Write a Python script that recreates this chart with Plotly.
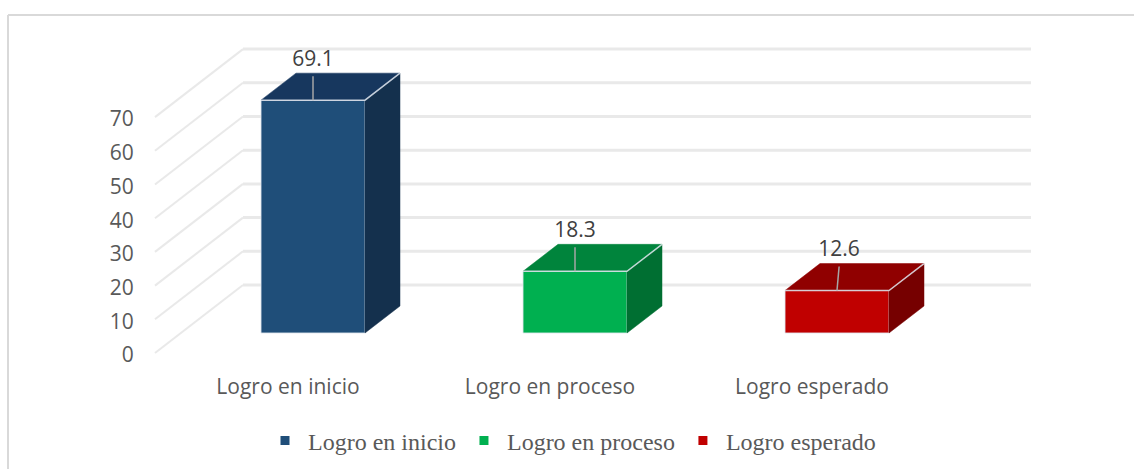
import plotly.graph_objects as go

categories = ["Logro en inicio", "Logro en proceso", "Logro esperado"]
values = [69.1, 18.3, 12.6]
y_ticks = [0, 10, 20, 30, 40, 50, 60, 70]

front_colors = ["#1F4E79", "#00B050", "#C00000"]
top_colors = ["#17375E", "#00843C", "#900000"]
side_colors = ["#14304D", "#006F32", "#760000"]
label_lean = [0.0, 0.0, 0.008]

# Oblique projection, in axis units
WALL_DX = 88 / 262
WALL_DY = 68 / 3.37
BAR_WIDTH = 104 / 262
FRONT_X = 25 / 262   # bar front centre, right of its category tick
FRONT_Y = 20 / 3.37  # bar front base, above the zero line
DEPTH_X = 35 / 262   # bar depth in x
DEPTH_Y = 27 / 3.37  # bar depth in y
LEADER = 24 / 3.37
LABEL_GAP = 29 / 3.37

fw, fh = 1134, 469
ml, mr, mt, mb = 150, 98, 40, 110
plot_w = fw - ml - mr
plot_h = fh - mt - mb
x_range = [(150 - 288) / 262, (1036 - 288) / 262]
y_range = [-6 / 3.37, (353 - 40) / 3.37]
grid_x0 = (155 - 288) / 262
grid_x1 = (1031 - 288) / 262

GRID = "#E9E9E9"
TXT = "#595959"
EDGE = "rgba(225,230,238,0.85)"
AXIS_FONT = "Open Sans"

fig = go.Figure()

for i, (cat, val) in enumerate(zip(categories, values)):
    fx = i + FRONT_X
    fy = FRONT_Y
    dx = DEPTH_X
    dy = DEPTH_Y
    xl, xr = fx - BAR_WIDTH / 2, fx + BAR_WIDTH / 2
    yb, yt = fy, fy + val

    fig.add_trace(go.Bar(x=[fx], y=[val], base=[fy], width=[BAR_WIDTH],
                         marker=dict(color=front_colors[i], line=dict(color=EDGE, width=1)),
                         name=cat, showlegend=False, hoverinfo="skip"))
    # side face
    fig.add_trace(go.Scatter(x=[xr, xr + dx, xr + dx, xr, xr], y=[yb, yb + dy, yt + dy, yt, yb],
                             mode="lines", fill="toself", fillcolor=side_colors[i],
                             line=dict(color=side_colors[i], width=0.5),
                             showlegend=False, hoverinfo="skip"))
    # top face
    fig.add_trace(go.Scatter(x=[xl, xl + dx, xr + dx, xr, xl], y=[yt, yt + dy, yt + dy, yt, yt],
                             mode="lines", fill="toself", fillcolor=top_colors[i],
                             line=dict(color=top_colors[i], width=0.5),
                             showlegend=False, hoverinfo="skip"))
    # light edges of the box
    fig.add_trace(go.Scatter(x=[xl, xr, xr + dx], y=[yt, yt, yt + dy], mode="lines",
                             line=dict(color=EDGE, width=1.5),
                             showlegend=False, hoverinfo="skip"))
    # leader line and data label
    fig.add_trace(go.Scatter(x=[fx, fx + label_lean[i]], y=[yt, yt + LEADER], mode="lines",
                             line=dict(color="#A6A6A6", width=1.5),
                             showlegend=False, hoverinfo="skip"))
    fig.add_trace(go.Scatter(x=[fx + label_lean[i]], y=[yt + LABEL_GAP], mode="text",
                             text=[f"{val:.1f}"], textposition="top center",
                             textfont=dict(family=AXIS_FONT, size=21, color="#404040"),
                             showlegend=False, hoverinfo="skip"))

# legend entries
for cat, col in zip(categories, front_colors):
    fig.add_trace(go.Scatter(x=[None], y=[None], mode="markers", name=cat,
                             marker=dict(symbol="square", size=9, color=col)))

shapes = []
for t in y_ticks:
    shapes.append(dict(type="line", layer="below", xref="x", yref="y",
                       x0=grid_x0, y0=t, x1=grid_x0 + WALL_DX, y1=t + WALL_DY,
                       line=dict(color=GRID, width=2)))
    shapes.append(dict(type="line", layer="below", xref="x", yref="y",
                       x0=grid_x0 + WALL_DX, y0=t + WALL_DY, x1=grid_x1, y1=t + WALL_DY,
                       line=dict(color=GRID, width=3)))
# outer frame: left and top edges only
bx = (8 - ml) / plot_w
by = (fh - mb - 15) / plot_h
shapes.append(dict(type="line", xref="paper", yref="paper", x0=bx, x1=bx,
                   y0=-mb / plot_h, y1=by, line=dict(color="#D9D9D9", width=2)))
shapes.append(dict(type="line", xref="paper", yref="paper", x0=bx, x1=(fw - ml) / plot_w,
                   y0=by, y1=by, line=dict(color="#D9D9D9", width=2)))

fig.update_layout(
    width=fw, height=fh,
    margin=dict(l=ml, r=mr, t=mt, b=mb, autoexpand=False),
    paper_bgcolor="white", plot_bgcolor="white",
    barmode="overlay", shapes=shapes,
    font=dict(family=AXIS_FONT, size=21, color=TXT),
    xaxis=dict(range=x_range, tickmode="array", tickvals=[0, 1, 2], ticktext=categories,
               showgrid=False, zeroline=False, showline=False,
               ticks="outside", ticklen=9, tickcolor="rgba(0,0,0,0)",
               tickfont=dict(family=AXIS_FONT, size=21, color=TXT)),
    yaxis=dict(range=y_range, tickmode="array", tickvals=y_ticks,
               showgrid=False, zeroline=False, showline=False,
               ticks="outside", ticklen=11, tickcolor="rgba(0,0,0,0)",
               ticklabelshift=2,
               tickfont=dict(family=AXIS_FONT, size=21, color=TXT)),
    legend=dict(orientation="h", xanchor="left", yanchor="middle", itemwidth=36,
                x=(262 - ml) / plot_w, y=-(441 - (fh - mb)) / plot_h,
                font=dict(family="Liberation Serif", size=24, color=TXT),
                bgcolor="rgba(0,0,0,0)"),
)

fig.write_html("out.html", config=dict(displayModeBar=False),
               post_script="document.body.style.margin='0';")
